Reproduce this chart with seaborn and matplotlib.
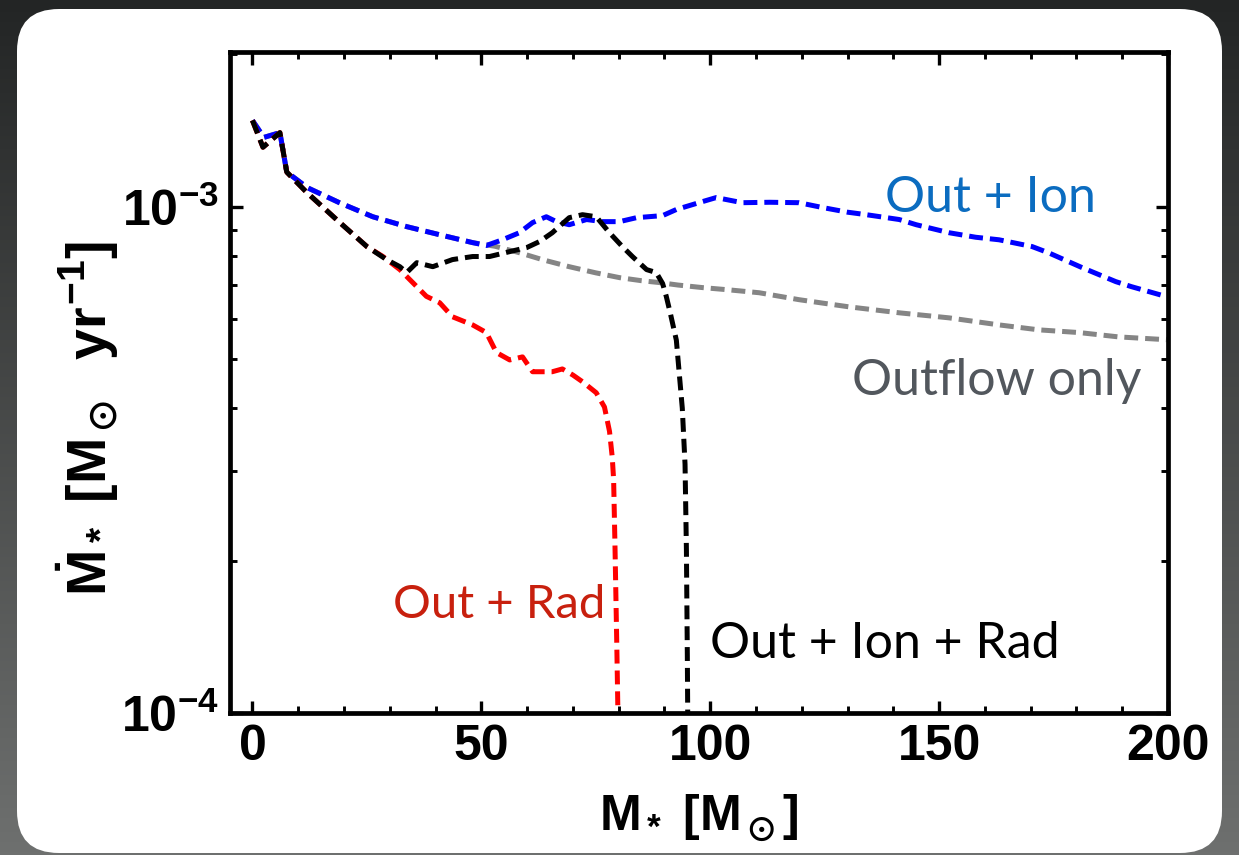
import numpy as np
import pandas as pd
import matplotlib
matplotlib.use("Agg")
import matplotlib.pyplot as plt
import seaborn as sns
from matplotlib.colors import LinearSegmentedColormap
from matplotlib.patches import FancyBboxPatch
from matplotlib.ticker import FixedLocator, FuncFormatter, LogLocator, NullFormatter

# ---------------- data (M_* in Msun, Mdot in Msun/yr) ----------------
outflow_x = [0, 2.5, 6, 7.5, 12, 19, 26.3, 33.7, 40.9, 48.1, 53, 58.3, 63.5, 69.2, 75, 80.2,
             85, 88.9, 93, 98.3, 104, 110.7, 119.4, 124.5, 130.3, 141.3, 152.2, 163.1,
             171.8, 180.6, 189.2, 199.7]
outflow_y = [1.48e-3, 1.37e-3, 1.40e-3, 1.17e-3, 1.09e-3, 1.018e-3, 0.955e-3, 0.913e-3,
             0.880e-3, 0.849e-3, 0.835e-3, 0.811e-3, 0.785e-3, 0.761e-3, 0.740e-3, 0.724e-3,
             0.714e-3, 0.708e-3, 0.700e-3, 0.692e-3, 0.685e-3, 0.676e-3, 0.655e-3, 0.645e-3,
             0.634e-3, 0.617e-3, 0.603e-3, 0.584e-3, 0.571e-3, 0.564e-3, 0.553e-3, 0.546e-3]

ion_x = [0, 2.5, 6, 7.5, 12, 19, 26.3, 33.7, 40.9, 48.1, 51.1, 54.6, 58.3, 61.2, 64.2, 66.4,
         69.2, 73, 76.4, 80.2, 83.9, 89.6, 92.6, 98.3, 101.3, 107, 113, 119.4, 124.5, 130,
         134.1, 141.3, 145, 152.2, 158, 163.1, 170.3, 174, 181.2, 188.6, 192, 199.7]
ion_y = [1.48e-3, 1.37e-3, 1.40e-3, 1.17e-3, 1.09e-3, 1.018e-3, 0.955e-3, 0.913e-3, 0.880e-3,
         0.849e-3, 0.838e-3, 0.860e-3, 0.888e-3, 0.930e-3, 0.955e-3, 0.934e-3, 0.921e-3,
         0.943e-3, 0.934e-3, 0.934e-3, 0.951e-3, 0.960e-3, 0.987e-3, 1.023e-3, 1.042e-3,
         1.018e-3, 1.020e-3, 1.018e-3, 0.996e-3, 0.975e-3, 0.964e-3, 0.943e-3, 0.921e-3,
         0.888e-3, 0.870e-3, 0.860e-3, 0.834e-3, 0.810e-3, 0.758e-3, 0.711e-3, 0.695e-3,
         0.664e-3]

rad_x = [0, 2.3, 6, 7.5, 11.9, 19.1, 25, 28.5, 32.2, 35.9, 38, 40.9, 43.7, 48.1, 51.1, 53.3,
         56.2, 59, 61.2, 65.5, 67.7, 70, 72.1, 75.1, 76.9, 78, 78.6, 78.9, 79.2, 79.6, 79.8,
         79.9]
rad_y = [1.48e-3, 1.31e-3, 1.40e-3, 1.17e-3, 1.066e-3, 0.930e-3, 0.834e-3, 0.797e-3,
         0.751e-3, 0.695e-3, 0.665e-3, 0.646e-3, 0.606e-3, 0.584e-3, 0.564e-3, 0.515e-3,
         0.498e-3, 0.505e-3, 0.472e-3, 0.472e-3, 0.478e-3, 0.465e-3, 0.451e-3, 0.429e-3,
         0.402e-3, 0.360e-3, 0.320e-3, 0.289e-3, 0.213e-3, 0.135e-3, 0.105e-3, 0.095e-3]

ionrad_x = [0, 2.3, 6, 7.5, 11.9, 19.1, 25, 29.3, 32.2, 33.7, 35.9, 39.4, 43.7, 48.1, 51.8,
            56.2, 59.9, 62.7, 65.5, 69.2, 72.1, 75.1, 78, 80.8, 83, 86.1, 88.2, 89.6, 90.4,
            91.3, 92.6, 93.9, 94.5, 94.8, 95.0, 95.1]
ionrad_y = [1.48e-3, 1.31e-3, 1.40e-3, 1.17e-3, 1.066e-3, 0.930e-3, 0.834e-3, 0.786e-3,
            0.761e-3, 0.741e-3, 0.775e-3, 0.761e-3, 0.786e-3, 0.797e-3, 0.797e-3, 0.815e-3,
            0.830e-3, 0.853e-3, 0.888e-3, 0.951e-3, 0.964e-3, 0.955e-3, 0.888e-3, 0.834e-3,
            0.797e-3, 0.751e-3, 0.741e-3, 0.705e-3, 0.665e-3, 0.615e-3, 0.545e-3, 0.400e-3,
            0.310e-3, 0.210e-3, 0.130e-3, 0.095e-3]

series = [
    ("Outflow only", outflow_x, outflow_y, "#858585"),
    ("Out + Ion", ion_x, ion_y, "#0000ff"),
    ("Out + Rad", rad_x, rad_y, "#ff0000"),
    ("Out + Ion + Rad", ionrad_x, ionrad_y, "#000000"),
]

x_ticks = [0, 50, 100, 150, 200]
x_minor = [10, 20, 30, 40, 60, 70, 80, 90, 110, 120, 130, 140, 160, 170, 180, 190]
y_ticks = [1e-4, 1e-3]

# ---------------- style ----------------
sns.set_style("white")
plt.rcParams.update({
    "font.family": ["Liberation Sans", "DejaVu Sans"],
    "font.weight": "bold",
    "text.color": "black",
    "axes.labelcolor": "black",
    "xtick.color": "black",
    "ytick.color": "black",
    "lines.scale_dashes": False,
    "mathtext.fontset": "custom",
    "mathtext.rm": "Liberation Sans:bold",
    "mathtext.it": "Liberation Sans:bold",
    "mathtext.bf": "Liberation Sans:bold",
    "mathtext.sf": "Liberation Sans:bold",
    "mathtext.fallback": "stixsans",
})

W, H = 1239, 855
fig = plt.figure(figsize=(W / 100, H / 100), dpi=100)

# background gradient + rounded white panel
bg = fig.add_axes([0, 0, 1, 1], zorder=-10)
grad = np.linspace(0, 1, 256).reshape(-1, 1)
cmap = LinearSegmentedColormap.from_list("bg", ["#6e706f", "#232525"])
bg.imshow(grad, aspect="auto", cmap=cmap, extent=[0, W, 0, H], origin="lower")
bg.add_patch(FancyBboxPatch((17, 2), 1205, 844, boxstyle="round,pad=0,rounding_size=42",
                            facecolor="white", edgecolor="none"))
bg.set_xlim(0, W)
bg.set_ylim(0, H)
bg.axis("off")

ax = fig.add_axes([230 / W, 1 - 713 / H, 938 / W, 661 / H])
ax.set_facecolor("white")

LW = 3.6            # points (~5 px)
DASH = (10.0, 5.0)  # points (~14 px dash, ~7 px gap)

for name, xs, ys, col in series:
    df = pd.DataFrame({"M": xs, "Mdot": ys})
    sns.lineplot(data=df, x="M", y="Mdot", ax=ax, color=col, linewidth=LW,
                 sort=False, estimator=None)

for ln in ax.get_lines():
    ln.set_linewidth(LW)
    ln.set_linestyle((0, DASH))
    ln.set_dash_capstyle("butt")
    ln.set_solid_joinstyle("round")
    ln.set_dash_joinstyle("round")

ax.set_yscale("log")
ax.set_xlim(-4.9, 200)
ax.set_ylim(1e-4, 2.02e-3)

ax.xaxis.set_major_locator(FixedLocator(x_ticks))
ax.xaxis.set_minor_locator(FixedLocator(x_minor))
ax.yaxis.set_major_locator(FixedLocator(y_ticks))
ax.yaxis.set_minor_locator(LogLocator(base=10, subs=np.arange(2, 10)))
ax.yaxis.set_minor_formatter(NullFormatter())
ax.xaxis.set_major_formatter(FuncFormatter(lambda v, p: f"{int(v)}"))
ax.yaxis.set_major_formatter(FuncFormatter(
    lambda v, p: r"$10^{%d}$" % int(round(np.log10(v)))))

ax.tick_params(which="both", direction="in", top=True, right=True, bottom=True,
               left=True, colors="black")
ax.tick_params(which="major", length=9, width=2.4, labelsize=36, pad=8)
ax.tick_params(which="minor", length=5, width=2.1)
for t in ax.get_xticklabels() + ax.get_yticklabels():
    t.set_fontweight("bold")
for s in ax.spines.values():
    s.set_linewidth(3.4)
    s.set_color("black")

ax.set_xlabel(r"$M_*\ [M_\odot]$", fontsize=36, va="center")
ax.xaxis.set_label_coords(0.5, -0.159)
ax.set_ylabel(r"$\dot{M}_*\ [M_\odot\ \ yr^{-1}]$", fontsize=40, ha="center",
              va="center")
ax.yaxis.set_label_coords(-0.152, 0.446)

txt_kw = dict(transform=ax.transAxes, family=["Lato", "DejaVu Sans"],
              fontweight="normal", va="baseline", ha="left")
ax.text(0.698, 0.758, "Out + Ion", color="#0b6cc0", fontsize=36, **txt_kw)
ax.text(0.663, 0.481, "Outflow only", color="#52575d", fontsize=36, **txt_kw)
ax.text(0.174, 0.144, "Out + Rad", color="#c8200e", fontsize=34, **txt_kw)
ax.text(0.512, 0.083, "Out + Ion + Rad", color="#000000", fontsize=36, **txt_kw)

fig.savefig("out.png", dpi=100)
